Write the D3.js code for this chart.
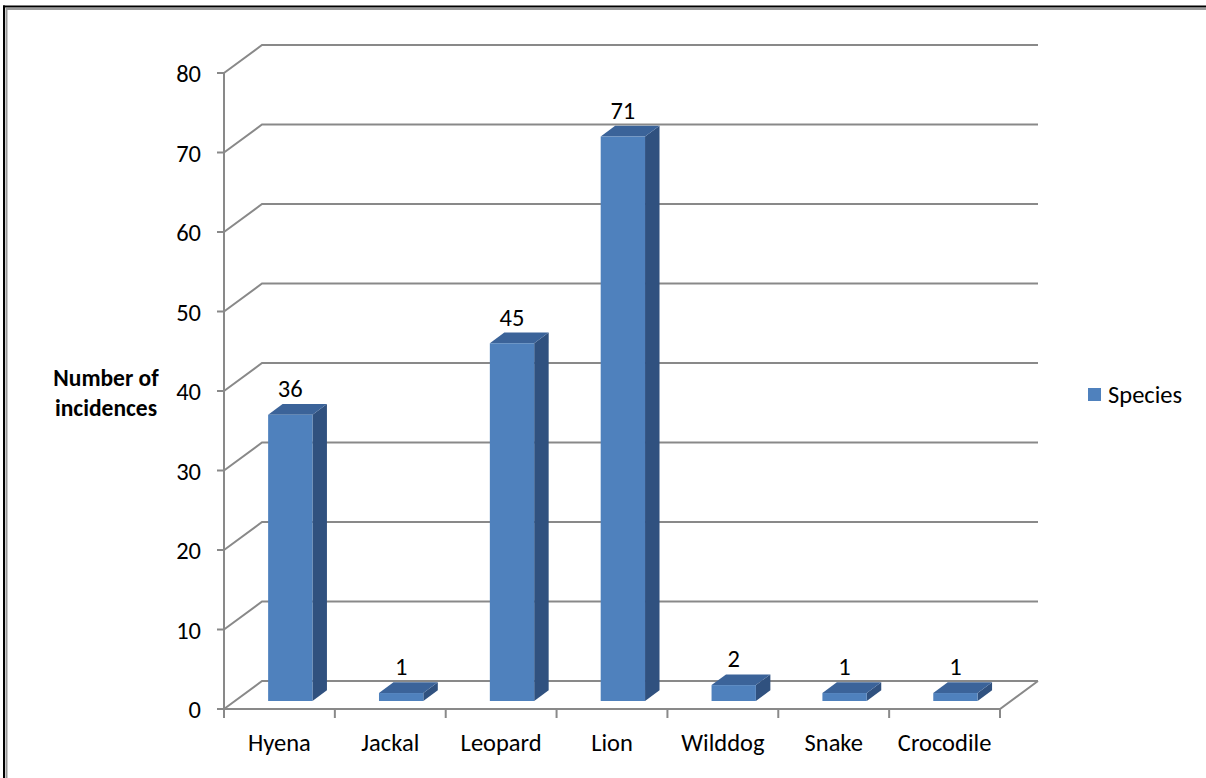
<!DOCTYPE html>
<html>
<head>
<meta charset="utf-8">
<script src="https://cdn.jsdelivr.net/npm/d3@7"></script>
<style>
  html, body { margin: 0; padding: 0; background: #fff; }
  svg { display: block; }
  text { font-family: Carlito, Lato, "Open Sans", sans-serif; fill: #000; }
</style>
</head>
<body>
<svg id="chart" width="1206" height="778"></svg>
<script>
const categories = ["Hyena", "Jackal", "Leopard", "Lion", "Wilddog", "Snake", "Crocodile"];
const values = [36, 1, 45, 71, 2, 1, 1];
const yTicks = [0, 10, 20, 30, 40, 50, 60, 70, 80];
const seriesName = "Species";
const yTitle = ["Number of", "incidences"];

(function () {
const svg = d3.select("#chart");
const W = 1206, H = 778;
const FS = 24.5;

// layout
const pLeft = 224, pRight = 1000, pBottom = 709, pTop = 73;
const DX = 38, DY = 28;          // depth projection
const d1 = 0.286, d2 = 0.667;    // bar front/back depth fractions

const x = d3.scaleBand().domain(categories).range([pLeft, pRight]).paddingInner(0.6).paddingOuter(0.3);
const y = d3.scaleLinear().domain([0, 80]).range([pBottom, pTop]);
const step = x.step();

const grid = "#898989";

// border
svg.append("line").attr("x1", 3).attr("x2", W).attr("y1", 6.5).attr("y2", 6.5).attr("stroke", "#000").attr("stroke-width", 2);
svg.append("line").attr("x1", 6.5).attr("x2", W).attr("y1", 9).attr("y2", 9).attr("stroke", "#999").attr("stroke-width", 2);
svg.append("line").attr("x1", 4).attr("x2", 4).attr("y1", 5.5).attr("y2", H).attr("stroke", "#000").attr("stroke-width", 2);
svg.append("line").attr("x1", 6.5).attr("x2", 6.5).attr("y1", 8).attr("y2", H).attr("stroke", "#999").attr("stroke-width", 2);

const g = svg.append("g");

// gridlines (side wall diagonal + back wall)
yTicks.forEach(v => {
  const yy = y(v);
  g.append("path")
    .attr("d", `M${pLeft},${yy} L${pLeft + DX},${yy - DY} L${pRight + DX},${yy - DY}`)
    .attr("fill", "none").attr("stroke", grid).attr("stroke-width", 2);
});
// floor front and right edge
g.append("path")
  .attr("d", `M${pLeft},${y(0)} L${pRight},${y(0)} L${pRight + DX},${y(0) - DY}`)
  .attr("fill", "none").attr("stroke", grid).attr("stroke-width", 2);
// vertical axis
g.append("line").attr("x1", pLeft).attr("x2", pLeft).attr("y1", y(80)).attr("y2", y(0))
  .attr("stroke", grid).attr("stroke-width", 2);
// y ticks
yTicks.forEach(v => {
  g.append("line").attr("x1", pLeft - 7).attr("x2", pLeft).attr("y1", y(v)).attr("y2", y(v))
    .attr("stroke", grid).attr("stroke-width", 2);
  g.append("text").attr("x", 201).attr("y", y(v) + 9).attr("text-anchor", "end")
    .attr("font-size", FS).text(v);
});
// x ticks at category boundaries
const bounds = categories.map((c, i) => pLeft + i * step).concat([pRight]);
bounds.forEach(bx => {
  g.append("line").attr("x1", bx).attr("x2", bx).attr("y1", y(0)).attr("y2", y(0) + 9)
    .attr("stroke", grid).attr("stroke-width", 2);
});
// category labels
categories.forEach(c => {
  g.append("text").attr("x", x(c) + x.bandwidth() / 2).attr("y", 751)
    .attr("text-anchor", "middle").attr("font-size", FS).text(c);
});

// bars
const bw = x.bandwidth();
const ddx = (d2 - d1) * DX, ddy = (d2 - d1) * DY;
categories.forEach((c, i) => {
  const v = values[i];
  const x0 = x(c) + d1 * DX;
  const yt = y(v) - d1 * DY;
  const yb = y(0) - d1 * DY;
  g.append("path")
    .attr("d", `M${x0 + bw},${yt} L${x0 + bw + ddx},${yt - ddy} L${x0 + bw + ddx},${yb - ddy} L${x0 + bw},${yb} Z`)
    .attr("fill", "#30517f");
  g.append("path")
    .attr("d", `M${x0},${yt} L${x0 + bw},${yt} L${x0 + bw + ddx},${yt - ddy} L${x0 + ddx},${yt - ddy} Z`)
    .attr("fill", "#3b6399");
  g.append("rect").attr("x", x0).attr("y", yt).attr("width", bw).attr("height", yb - yt)
    .attr("fill", "#4f81bd");
  g.append("text").attr("x", x0 + bw / 2).attr("y", yt - ddy - 7)
    .attr("text-anchor", "middle").attr("font-size", FS).text(v);
});

// y title
g.append("text").attr("x", 106).attr("y", 386).attr("text-anchor", "middle")
  .attr("font-size", 23.5).attr("font-weight", "bold").text(yTitle[0]);
g.append("text").attr("x", 106).attr("y", 416).attr("text-anchor", "middle")
  .attr("font-size", 23.5).attr("font-weight", "bold").text(yTitle[1]);

// legend
g.append("rect").attr("x", 1088).attr("y", 388).attr("width", 13).attr("height", 13).attr("fill", "#4f81bd");
g.append("text").attr("x", 1108).attr("y", 403).attr("font-size", FS).text(seriesName);
})();
</script>
</body>
</html>
